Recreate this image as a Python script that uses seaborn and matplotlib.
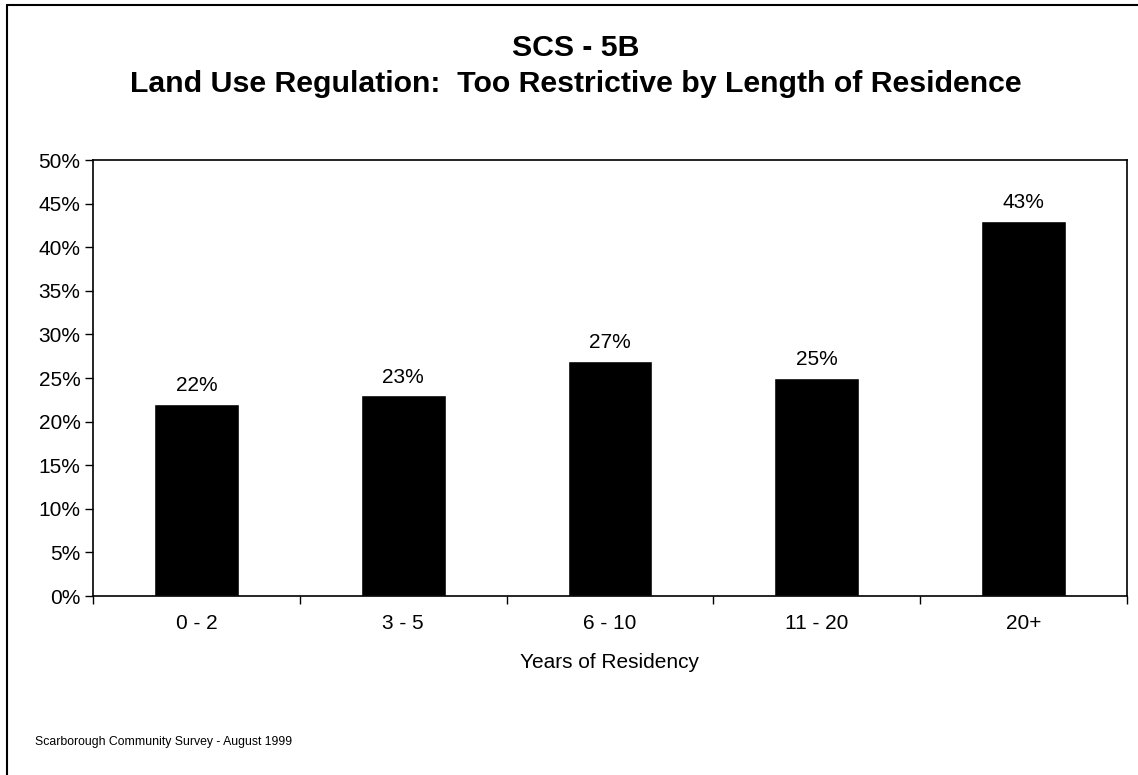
import numpy as np
import pandas as pd
import matplotlib
matplotlib.use("Agg")
import matplotlib.pyplot as plt
import seaborn as sns
from matplotlib.ticker import PercentFormatter, FixedLocator
from matplotlib.lines import Line2D

# Données du graphique
categories = ["0 - 2", "3 - 5", "6 - 10", "11 - 20", "20+"]
pourcentages = [22, 23, 27, 25, 43]
titre = "SCS - 5B\nLand Use Regulation:  Too Restrictive by Length of Residence"
label_x = "Years of Residency"
source = "Scarborough Community Survey - August 1999"

sns.set_style("white")
plt.rcParams["font.family"] = ["Liberation Sans", "DejaVu Sans"]
plt.rcParams["text.color"] = "black"
plt.rcParams["axes.labelcolor"] = "black"

df = pd.DataFrame({"residence": categories, "pct": pourcentages})

fig = plt.figure(figsize=(11.38, 7.75), dpi=100)
ax = fig.add_axes([93 / 1138, 1 - 596 / 775, (1127 - 93) / 1138, (596 - 160) / 775])

sns.barplot(data=df, x="residence", y="pct", color="black", width=0.41,
            saturation=1, ax=ax)

ax.set_ylim(0, 50)
ax.set_xlim(-0.5, len(categories) - 0.5)
ax.yaxis.set_major_locator(FixedLocator(np.arange(0, 51, 5)))
ax.yaxis.set_major_formatter(PercentFormatter(decimals=0))
ax.tick_params(axis="y", direction="out", length=6, width=1, colors="black",
               labelsize=15, left=True, pad=3)

# ticks x entre les catégories
ax.set_xticks(np.arange(-0.5, len(categories), 1), minor=True)
ax.tick_params(axis="x", which="minor", direction="out", length=6, width=1,
               bottom=True, colors="black")
ax.tick_params(axis="x", which="major", length=0, labelsize=15, pad=13,
               colors="black")
ax.set_xlabel(label_x, fontsize=15, labelpad=14)
ax.set_ylabel("")

for s in ax.spines.values():
    s.set_visible(True)
    s.set_color("black")
    s.set_linewidth(1.2)

# étiquettes de valeurs
for i, v in enumerate(pourcentages):
    ax.text(i, v + 1.0, f"{v}%", ha="center", va="bottom", fontsize=15)

fig.text(576 / 1138, 1 - 66 / 775, titre, ha="center", va="center",
         fontsize=21.8, fontweight="bold", linespacing=1.4)
fig.text(35 / 1138, 1 - 742 / 775, source, ha="left", va="center", fontsize=8.8)

# cadre de la figure (haut et gauche)
fig.add_artist(Line2D([7 / 1138, 1], [1 - 5 / 775, 1 - 5 / 775],
                      transform=fig.transFigure, color="black", lw=1.5))
fig.add_artist(Line2D([7 / 1138, 7 / 1138], [0, 1 - 5 / 775],
                      transform=fig.transFigure, color="black", lw=1.5))

fig.savefig("out.png", dpi=100, facecolor="white")
